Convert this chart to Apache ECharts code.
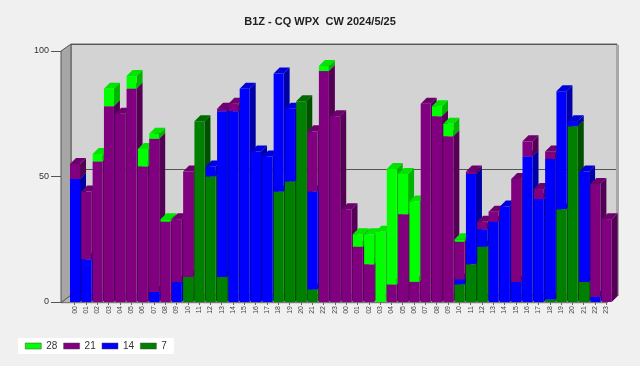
<!DOCTYPE html>
<html>
<head>
<meta charset="utf-8">
<script src="https://cdn.jsdelivr.net/npm/echarts@6/dist/echarts.min.js"></script>
<style>
html,body{margin:0;padding:0;background:#f0f0f0;}
#c{width:640px;height:366px;}
</style>
</head>
<body>
<div id="c"></div>
<script>
// ---- data ----
const categories = ['00','01','02','03','04','05','06','07','08','09','10','11','12','13','14','15','16','17','18','19','20','21','22','23',
                    '00','01','02','03','04','05','06','07','08','09','10','11','12','13','14','15','16','17','18','19','20','21','22','23'];
const s7  = [0,0,0,0,0,0,0,0,0,0,10,72,50,10,0,0,0,0,44,48,80,5,0,0,
             0,0,0,0,0,0,0,0,0,0,7,15,22,0,0,0,0,0,1,37,70,8,0,0];
const s14 = [49,17,0,0,0,0,0,4,0,8,0,0,4,66,76,85,60,58,47,29,0,39,0,0,
             0,0,0,0,0,0,0,0,0,0,2,36,7,32,38,8,58,41,56,47,2,44,2,0];
const s21 = [6,27,56,78,75,85,54,61,32,25,42,0,0,1,3,0,0,0,0,0,0,24,92,74,
             37,22,15,0,7,35,8,79,74,66,15,1,3,4,0,41,6,4,3,0,0,0,45,33];
const s28 = [0,0,3,7,0,5,7,2,1,0,0,0,0,0,0,0,0,0,0,0,0,0,2,0,
             0,5,12,28,46,16,32,0,4,5,1,0,0,0,0,0,0,0,0,0,0,0,0,0];
const seriesNames = ['7','14','21','28'];
const yTicks = [0, 50, 100];

// ---- styling ----
const PAL = [
  {front:'#008000', top:'#006c00', side:'#005000'},
  {front:'#0000ff', top:'#0000dc', side:'#0000a8'},
  {front:'#800080', top:'#6c006c', side:'#540054'},
  {front:'#00ff00', top:'#00e400', side:'#00b400'}
];
const DX = 6, DY = 6;
const G = {left:69, right:28, top:51, bottom:64};

const stacks = [s7, s14, s21, s28];
const bases = [];
let acc = categories.map(() => 0);
stacks.forEach((arr, k) => {
  bases.push(acc.slice());
  acc = acc.map((v, i) => v + arr[i]);
});

function render(k) {
  return function (params, api) {
    const i = api.value(0), b = api.value(1), t = api.value(2);
    if (!(t > b)) return null;
    const w = api.size([1, 0])[0];
    const pb = api.coord([i, b]), pt = api.coord([i, t]);
    const x0 = pb[0] - w / 2 + 1, x1 = pb[0] + w / 2 - 0.3;
    const c = PAL[k];
    const z = i * 10 + k * 2;
    return {
      type: 'group',
      children: [
        {type:'polygon', z2:z, shape:{points:[[x1,pb[1]],[x1,pt[1]],[x1+DX,pt[1]-DY],[x1+DX,pb[1]-DY]]}, style:{fill:c.side}},
        {type:'polygon', z2:z, shape:{points:[[x0,pt[1]],[x1,pt[1]],[x1+DX,pt[1]-DY],[x0+DX,pt[1]-DY]]}, style:{fill:c.top}},
        {type:'rect', z2:z+1, shape:{x:x0, y:pt[1], width:x1-x0, height:pb[1]-pt[1]}, style:{fill:c.front}}
      ]
    };
  };
}

const series = stacks.map((arr, k) => ({
  name: seriesNames[k],
  type: 'custom',
  xAxisIndex: 0, yAxisIndex: 0,
  itemStyle: {color: PAL[k].front},
  renderItem: render(k),
  encode: {x: 0, y: [1, 2]},
  silent: true,
  z: 3,
  data: arr.map((v, i) => [i, bases[k][i], bases[k][i] + v])
}));

const chart = echarts.init(document.getElementById('c'), null, {renderer:'canvas'});
const W = 640, H = 366;
const fl = G.left - 8, fb = H - G.bottom + 0.7, bl = G.left + 2, bt = 44, bb = 295, br = 617;
chart.setOption({
  backgroundColor: '#f0f0f0',
  animation: false,
  title: {
    text: 'B1Z - CQ WPX  CW 2024/5/25',
    left: 'center', top: 11,
    textStyle: {fontFamily: 'Liberation Sans, Arial', fontSize: 11, fontWeight: 'bold', color: '#222'}
  },
  legend: {
    data: ['28', '21', '14', '7'],
    left: 18, top: 338,
    padding: [3, 7, 3, 7],
    backgroundColor: '#ffffff',
    icon: 'rect',
    itemWidth: 16, itemHeight: 6, itemGap: 6,
    itemStyle: {borderColor: '#444', borderWidth: 0.5},
    textStyle: {fontFamily: 'Liberation Sans, Arial', fontSize: 10, color: '#333'}
  },
  grid: [
    {left: G.left, right: G.right, top: G.top, bottom: G.bottom},
    {left: bl, right: W - br, top: bt, bottom: H - bb, show: true,
     backgroundColor: '#d3d3d3', borderColor: '#666', borderWidth: 1, z: 0}
  ],
  xAxis: [
    {type: 'category', gridIndex: 0, data: categories,
     axisLine: {show: false},
     axisTick: {show: true, alignWithLabel: true, length: 3, lineStyle: {color: '#666'}},
     axisLabel: {rotate: 90, fontSize: 7, margin: 4, color: '#444', interval: 0, fontFamily: 'Liberation Sans, Arial'}},
    {type: 'value', gridIndex: 1, show: false, min: 0, max: 1}
  ],
  yAxis: [
    {type: 'value', gridIndex: 0, min: yTicks[0], max: yTicks[yTicks.length - 1], interval: 50, offset: 8,
     axisLine: {show: true, lineStyle: {color: '#555'}},
     axisTick: {show: true, length: 10, lineStyle: {color: '#555'}},
     axisLabel: {fontSize: 9, margin: 12, color: '#333', fontFamily: 'Liberation Sans, Arial'},
     splitLine: {show: false}},
    {type: 'value', gridIndex: 1, min: yTicks[0], max: yTicks[yTicks.length - 1], interval: 50,
     axisLine: {show: false}, axisTick: {show: false}, axisLabel: {show: false},
     splitLine: {show: true, lineStyle: {color: '#555', width: 1}}}
  ],
  graphic: [
    {type: 'polygon', z: 1, silent: true,
     shape: {points: [[fl, fb], [bl, bb], [br, bb], [br - 10, fb]]},
     style: {fill: '#b4b4b4', stroke: '#666', lineWidth: 1}},
    {type: 'polygon', z: 1, silent: true,
     shape: {points: [[fl, G.top], [bl, bt], [bl, bb], [fl, fb]]},
     style: {fill: '#a6a6a6', stroke: '#555', lineWidth: 1}},
    {type: 'rect', z: 1, silent: true,
     shape: {x: br - 1, y: bt + 1, width: 3, height: bb - bt},
     style: {fill: '#a8a8a8'}}
  ],
  series: series
});
</script>
</body>
</html>
